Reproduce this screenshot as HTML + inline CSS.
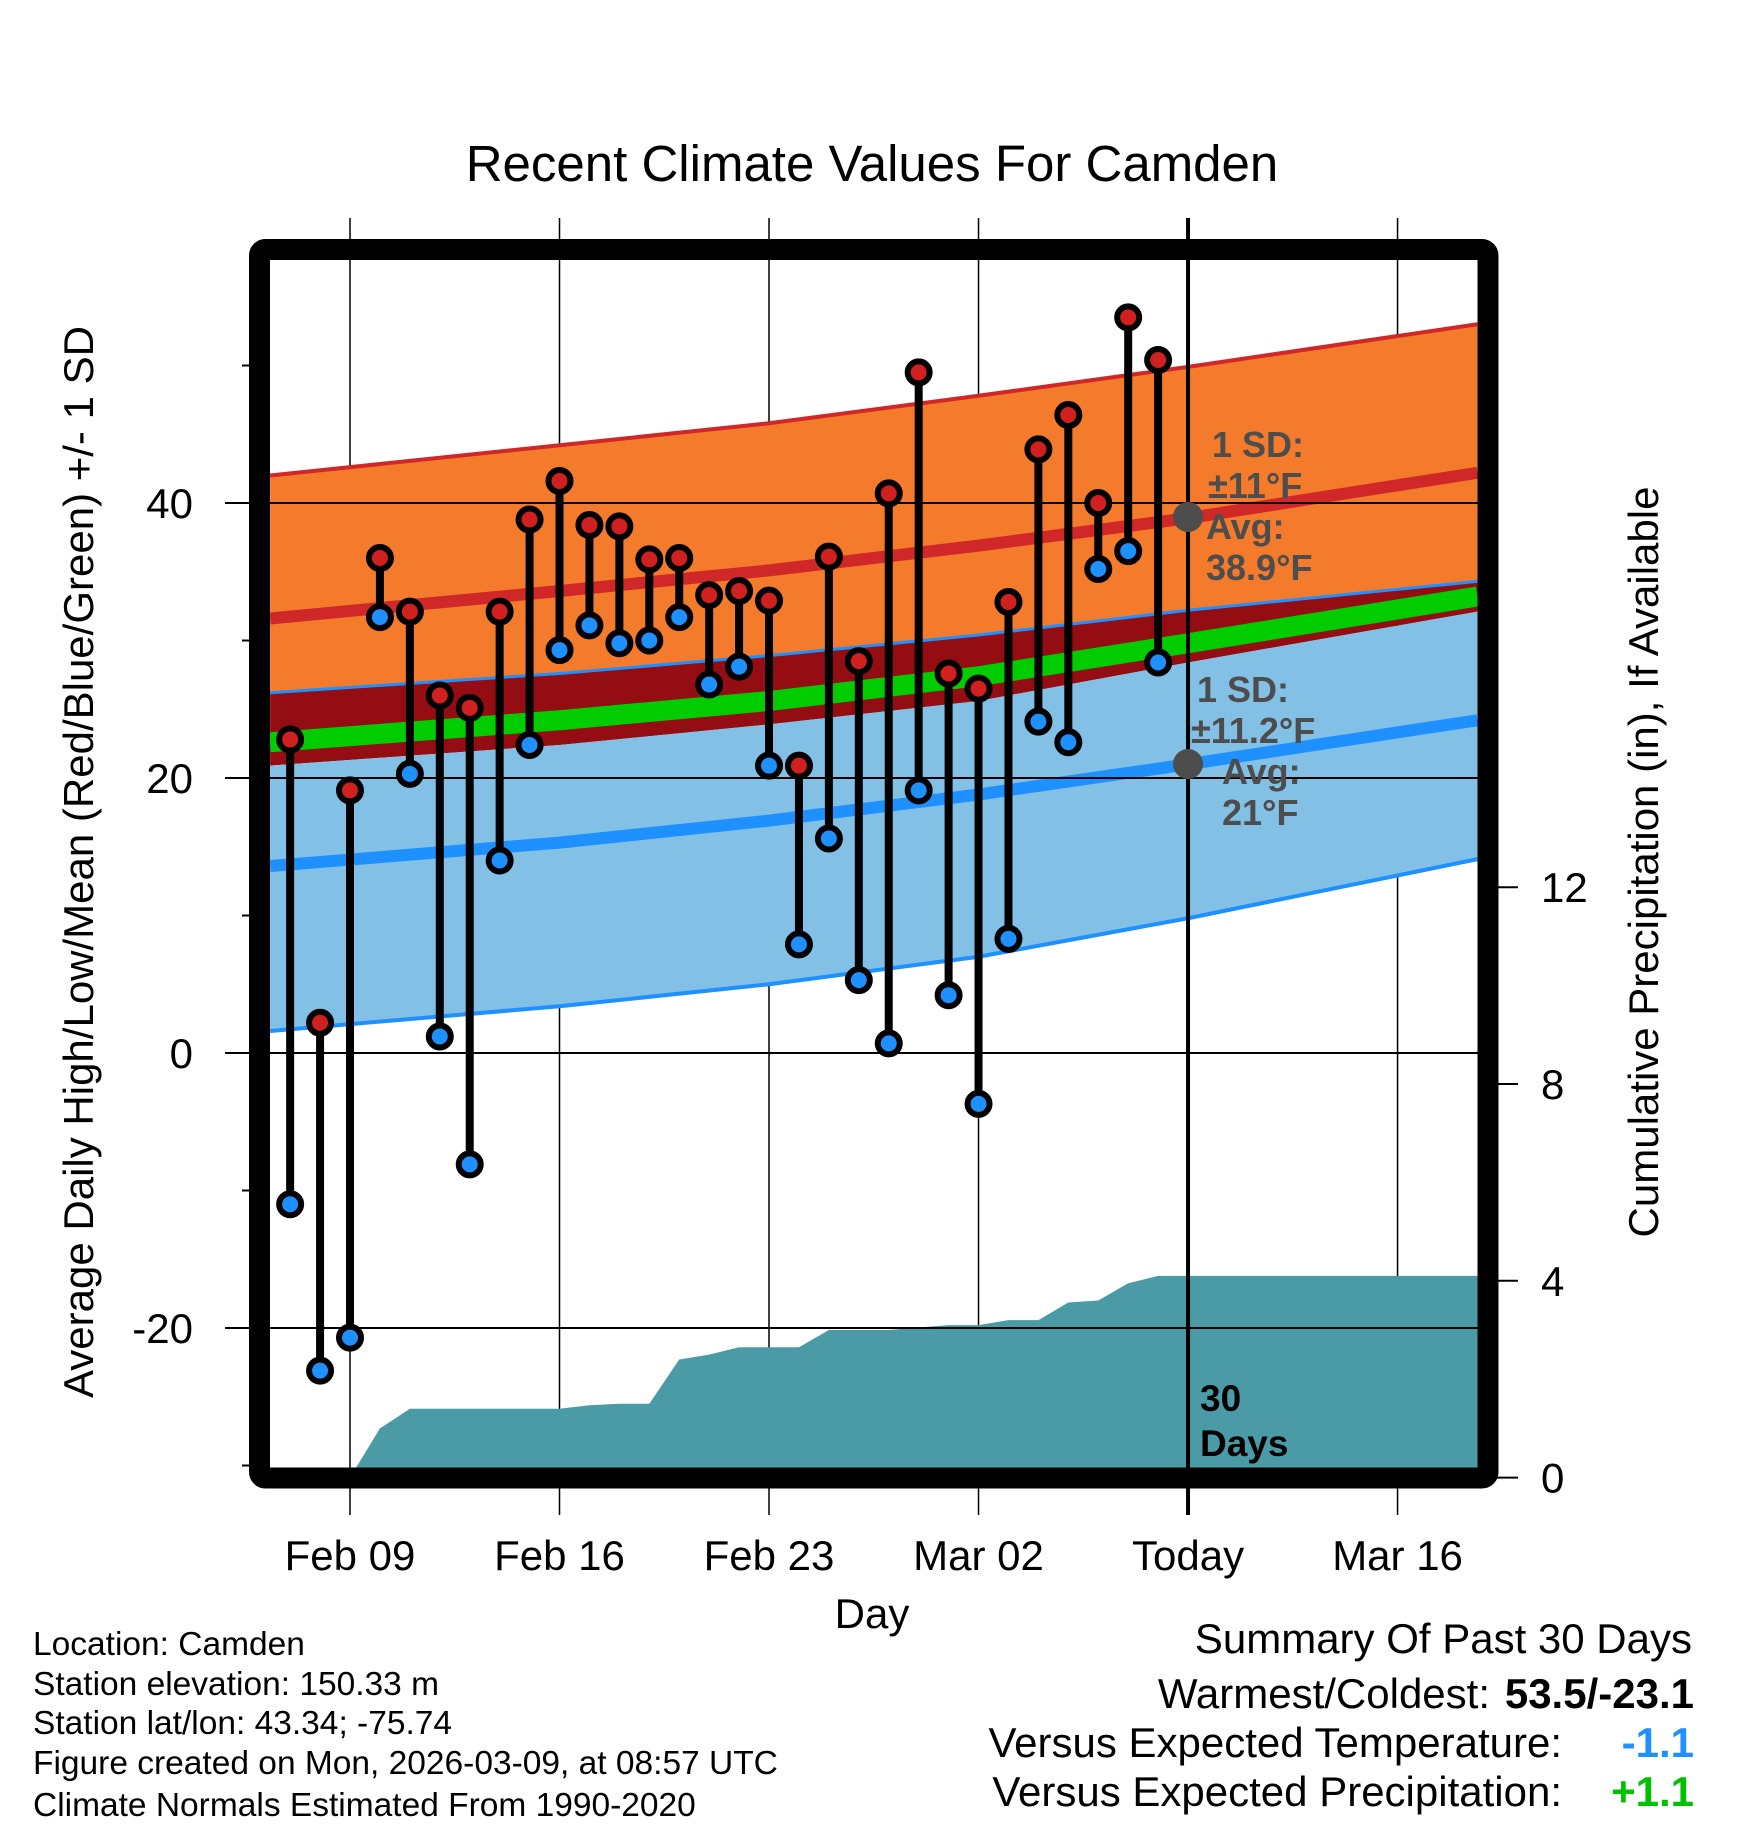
<!DOCTYPE html>
<html><head><meta charset="utf-8"><style>
html,body{margin:0;padding:0;background:#fff}
svg{display:block;font-family:"Liberation Sans",sans-serif}
</style></head><body>
<svg id="chart" width="1748" height="1828" viewBox="0 0 1748 1828" xmlns="http://www.w3.org/2000/svg">
<defs><clipPath id="plotclip"><rect x="270" y="260" width="1208" height="1208"/></clipPath></defs>
<text x="872" y="181" font-size="51" text-anchor="middle">Recent Climate Values For Camden</text>
<g id="grid"></g>
<g id="plot" clip-path="url(#plotclip)"></g>
<g id="over"></g>
<rect x="259.5" y="249.5" width="1228.5" height="1228.5" rx="6" fill="none" stroke="#000" stroke-width="21"/>
<g id="axes"></g>
<text transform="translate(93,862) rotate(-90)" font-size="42" text-anchor="middle">Average Daily High/Low/Mean (Red/Blue/Green) +/- 1 SD</text>
<text transform="translate(1658,862) rotate(-90)" font-size="42" text-anchor="middle">Cumulative Precipitation (in), If Available</text>
<text x="872" y="1628" font-size="42" text-anchor="middle">Day</text>
<g fill="#4d4d4d" font-weight="bold" font-size="36">
<circle cx="1188" cy="517" r="15"/>
<text x="1212" y="457">1 SD:</text><text x="1208" y="498">±11°F</text><text x="1206" y="539">Avg:</text><text x="1206" y="580">38.9°F</text>
</g>
<g fill="#4d4d4d" font-weight="bold" font-size="36">
<circle cx="1188" cy="764" r="15"/>
<text x="1197" y="702">1 SD:</text><text x="1191" y="743">±11.2°F</text><text x="1222" y="784">Avg:</text><text x="1222" y="825">21°F</text>
</g>
<g font-weight="bold" font-size="37">
<text x="1200" y="1411">30</text><text x="1200" y="1456">Days</text>
</g>
<g font-size="33.5">
<text x="33" y="1655">Location: Camden</text>
<text x="33" y="1695">Station elevation: 150.33 m</text>
<text x="33" y="1734">Station lat/lon: 43.34; -75.74</text>
<text x="33" y="1774">Figure created on Mon, 2026-03-09, at 08:57 UTC</text>
<text x="33" y="1816">Climate Normals Estimated From 1990-2020</text>
</g>
<g font-size="42">
<text x="1692" y="1653" text-anchor="end">Summary Of Past 30 Days</text>
<text x="1490" y="1708" text-anchor="end">Warmest/Coldest:</text>
<text x="1694" y="1708" text-anchor="end" font-weight="bold">53.5/-23.1</text>
<text x="1562" y="1757" text-anchor="end">Versus Expected Temperature:</text>
<text x="1694" y="1757" text-anchor="end" font-weight="bold" fill="#1e90ff">-1.1</text>
<text x="1562" y="1806" text-anchor="end">Versus Expected Precipitation:</text>
<text x="1694" y="1806" text-anchor="end" font-weight="bold" fill="#00c000">+1.1</text>
</g>
</svg>
<script>
// data: days relative to Feb 09
const dataDays=[-2,-1,0,1,2,3,4,5,6,7,8,9,10,11,12,13,14,15,16,17,18,19,20,21,22,23,24,25,26,27];
const highs=[22.8,2.2,19.1,36.0,32.1,26.0,25.1,32.1,38.8,41.6,38.4,38.3,35.9,36.0,33.3,33.6,32.9,20.9,36.1,28.5,40.7,49.5,27.6,26.5,32.8,43.9,46.4,40.0,53.5,50.4];
const lows=[-11.0,-23.1,-20.7,31.7,20.3,1.2,-8.1,14.0,22.4,29.3,31.1,29.8,30.0,31.7,26.8,28.1,20.9,7.9,15.6,5.3,0.7,19.1,4.2,-3.7,8.3,24.1,22.6,35.2,36.5,28.4];
const precip=[0,0,0,1.0,1.4,1.4,1.4,1.4,1.4,1.4,1.47,1.5,1.5,2.4,2.5,2.65,2.65,2.65,3.0,3.0,3.0,3.05,3.1,3.1,3.2,3.2,3.56,3.6,3.95,4.1];
const normDays=[-2.67,7,14,21,28,37.67];
const highUpper=[42.0,44.2,45.8,47.8,49.9,53.0];
const highAvg=[31.6,33.6,35.1,36.9,38.9,42.2];
const lowUpper=[26.2,27.6,28.9,30.4,32.2,34.3];
const meanLine=[22.6,24.2,25.6,27.4,29.8,33.2];
const meanLower=[20.9,22.4,23.9,25.6,28.4,32.1];
const lowAvg=[13.6,15.3,16.9,18.8,21.0,24.2];
const lowLower=[1.6,3.4,5.0,7.0,9.8,14.1];
const xTickDays=[0,7,14,21,28,35];
const xTickLabels=["Feb 09","Feb 16","Feb 23","Mar 02","Today","Mar 16"];
const yTicks=[40,20,0,-20];
const yMinor=[50,30,10,-10,-30];
const pTicks=[0,4,8,12];
const precipEndDay=37.67;

const X=d=>350+d*29.93;
const Y=t=>503+(40-t)*13.75;
const P=p=>1477.6-p*49.2;
const NS='http://www.w3.org/2000/svg';
function mk(tag,attrs,parent){const e=document.createElementNS(NS,tag);for(const k in attrs)e.setAttribute(k,attrs[k]);parent.appendChild(e);return e;}
const plot=document.getElementById('plot'),grid=document.getElementById('grid'),axes=document.getElementById('axes'),over=document.getElementById('over');
function band(up,lo,fill,name){
  let pts=normDays.map((d,i)=>X(d)+','+Y(up[i]));
  for(let i=normDays.length-1;i>=0;i--)pts.push(X(normDays[i])+','+Y(lo[i]));
  const e=mk('polygon',{points:pts.join(' '),fill:fill},plot);
  
  
}
function line(vals,color,w,name){
  const e=mk('polyline',{points:normDays.map((d,i)=>X(d)+','+Y(vals[i])).join(' '),fill:'none',stroke:color,'stroke-width':w},plot);
  
  
}
band(highUpper,lowUpper,'#f47a2c','high-sd-band');
band(lowUpper,meanLower,'#930d12','mean-band');
band(meanLower,lowLower,'#82c0e6','low-sd-band');
line(highUpper,'#d02828',4,'high-upper-line');
line(lowUpper,'#1e90ff',3,'low-upper-line');
line(lowLower,'#1e90ff',4,'low-lower-line');
line(meanLine,'#00cc00',20,'mean-line');
line(highAvg,'#d02828',12,'high-avg-line');
line(lowAvg,'#1e90ff',12,'low-avg-line');
{
  let pts=[X(dataDays[0])+','+P(0)];
  dataDays.forEach((d,i)=>pts.push(X(d)+','+P(precip[i])));
  pts.push(X(precipEndDay)+','+P(precip[precip.length-1]));
  pts.push(X(precipEndDay)+','+P(0));
  const e=mk('polygon',{points:pts.join(' '),fill:'#4a9ba5'},plot);
  
  
}
xTickDays.forEach((d,i)=>{
  const today=xTickLabels[i]==='Today';
  const e=mk('line',{x1:X(d),x2:X(d),y1:218,y2:1515,stroke:'#000','stroke-width':today?4:1.5},today?over:grid);
  
  
  const t=mk('text',{x:X(d),y:1570,'font-size':42,'text-anchor':'middle'},axes);
  t.textContent=xTickLabels[i];
  
  
});
yTicks.forEach(v=>{
  const e=mk('line',{x1:225,x2:1478,y1:Y(v),y2:Y(v),stroke:'#000','stroke-width':2},over);
  
  
  const t=mk('text',{x:193,y:Y(v)+15,'font-size':42,'text-anchor':'end'},axes);
  t.textContent=v;
  
  
});
yMinor.forEach(v=>{
  const e=mk('line',{x1:242,x2:252,y1:Y(v),y2:Y(v),stroke:'#000','stroke-width':2},axes);
  
  
});
pTicks.forEach(v=>{
  const e=mk('line',{x1:1495,x2:1518,y1:P(v),y2:P(v),stroke:'#000','stroke-width':2},axes);
  
  
  const t=mk('text',{x:1541,y:P(v)+15,'font-size':42},axes);
  t.textContent=v;
  
  
});
dataDays.forEach((d,i)=>{
  const s=mk('line',{x1:X(d),x2:X(d),y1:Y(highs[i]),y2:Y(lows[i]),stroke:'#000','stroke-width':8},over);
  
  
});
dataDays.forEach((d,i)=>{
  const h=mk('circle',{cx:X(d),cy:Y(highs[i]),r:11,fill:'#d02020',stroke:'#000','stroke-width':6},over);
  
  
  const l=mk('circle',{cx:X(d),cy:Y(lows[i]),r:11,fill:'#1e90ff',stroke:'#000','stroke-width':6},over);
  
  
});
</script>
</body></html>
